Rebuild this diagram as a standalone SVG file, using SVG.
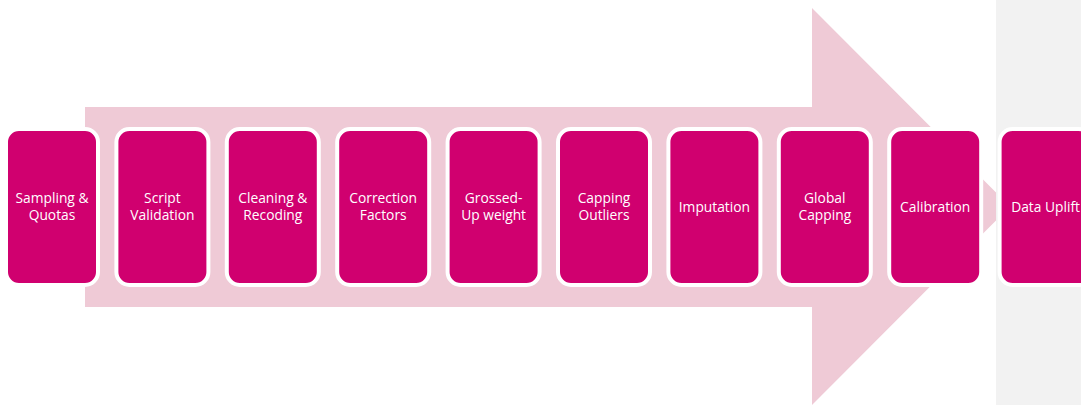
<svg xmlns="http://www.w3.org/2000/svg" width="1081" height="405" viewBox="0 0 1081 405">
<style>
.box{fill:#D0006F;stroke:#FFFFFF;stroke-width:4}
.lbl{font-family:"Open Sans","Liberation Sans",sans-serif;font-size:13.8px;fill:#FFFFFF;text-anchor:middle}
</style>
<rect width="1081" height="405" fill="#FFFFFF"/>
<g id="arrow">
<polygon points="85,107 812,107 812,8 1010,206.5 812,405 812,307 85,307" fill="#EFCAD6"/>
</g>
<rect id="panel" x="996" y="0" width="85" height="405" fill="#F2F2F2"/>
<g id="connectors"></g>
<g id="n1"><rect class="box" x="6" y="129" width="92" height="156" rx="13"/><text class="lbl" x="52" y="203">Sampling &amp;</text><text class="lbl" x="52" y="220">Quotas</text></g>
<g id="n2"><rect class="box" x="116.4" y="129" width="92" height="156" rx="13"/><text class="lbl" x="162.4" y="203">Script</text><text class="lbl" x="162.4" y="220">Validation</text></g>
<g id="n3"><rect class="box" x="226.8" y="129" width="92" height="156" rx="13"/><text class="lbl" x="272.8" y="203">Cleaning &amp;</text><text class="lbl" x="272.8" y="220">Recoding</text></g>
<g id="n4"><rect class="box" x="337.2" y="129" width="92" height="156" rx="13"/><text class="lbl" x="383.2" y="203">Correction</text><text class="lbl" x="383.2" y="220">Factors</text></g>
<g id="n5"><rect class="box" x="447.6" y="129" width="92" height="156" rx="13"/><text class="lbl" x="493.6" y="203">Grossed-</text><text class="lbl" x="493.6" y="220">Up weight</text></g>
<g id="n6"><rect class="box" x="558" y="129" width="92" height="156" rx="13"/><text class="lbl" x="604" y="203">Capping</text><text class="lbl" x="604" y="220">Outliers</text></g>
<g id="n7"><rect class="box" x="668.4" y="129" width="92" height="156" rx="13"/><text class="lbl" x="714.4" y="212">Imputation</text></g>
<g id="n8"><rect class="box" x="778.8" y="129" width="92" height="156" rx="13"/><text class="lbl" x="824.8" y="203">Global</text><text class="lbl" x="824.8" y="220">Capping</text></g>
<g id="n9"><rect class="box" x="889.2" y="129" width="92" height="156" rx="13"/><text class="lbl" x="935.2" y="212">Calibration</text></g>
<g id="n10"><rect class="box" x="999.6" y="129" width="92" height="156" rx="13"/><text class="lbl" x="1045.6" y="212">Data Uplift</text></g>
</svg>
